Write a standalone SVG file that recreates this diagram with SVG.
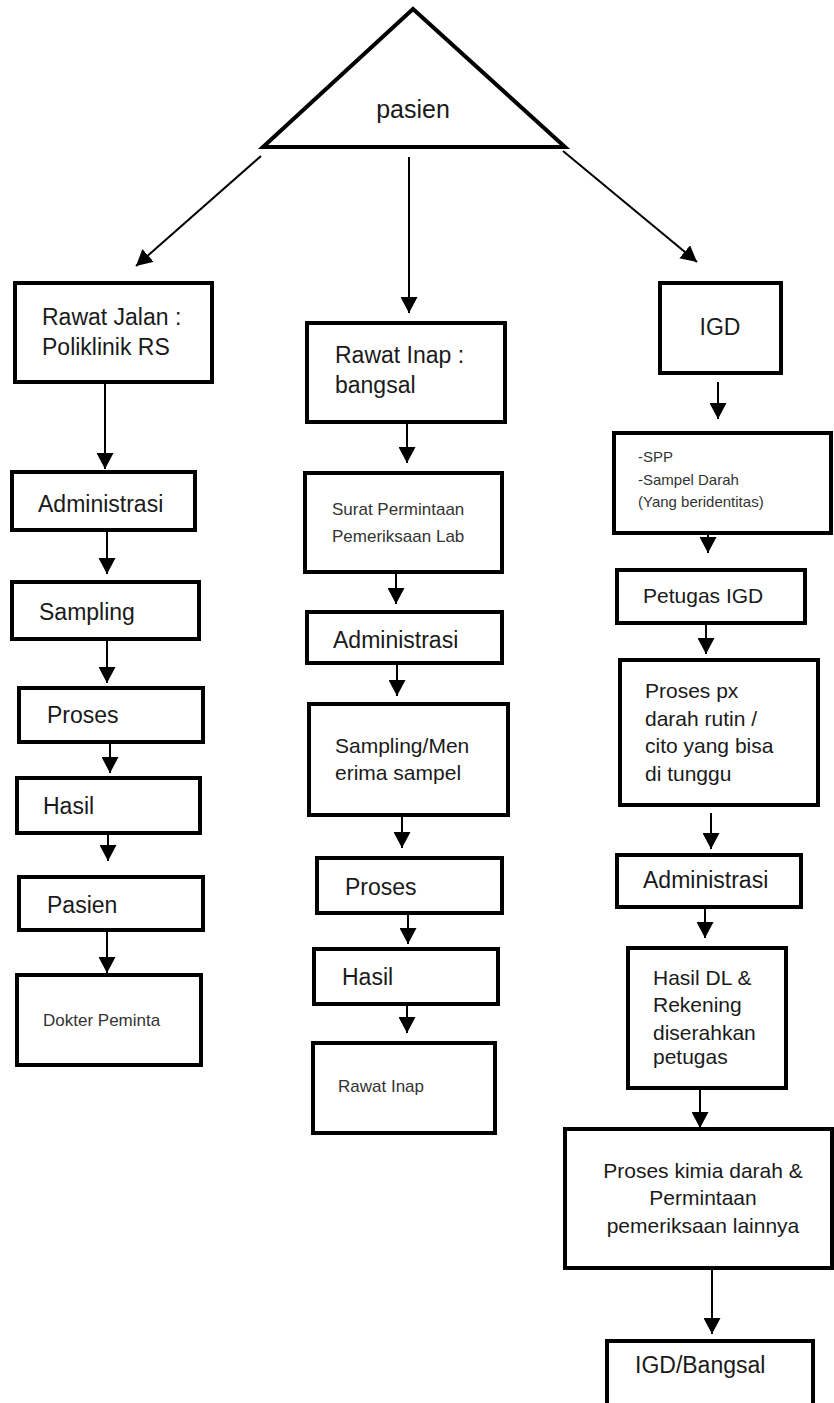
<svg xmlns="http://www.w3.org/2000/svg" width="834" height="1403" viewBox="0 0 834 1403">
<style>
.box{fill:#fff;stroke:#000;stroke-width:4}
.tri{fill:#fff;stroke:#000;stroke-width:4;stroke-linejoin:miter}
.c{fill:none;stroke:#000;stroke-width:2;marker-end:url(#ah)}
text{font-family:"Liberation Sans",Arial,sans-serif;fill:#1a1a1a}
.L{font-size:23px}
.M{font-size:21px}
.S{font-size:17px;fill:#333}
.T{font-size:15px;fill:#333}
</style>
<defs>
<marker id="ah" viewBox="0 0 16 17" refX="16" refY="8.5" markerWidth="16" markerHeight="17" markerUnits="userSpaceOnUse" orient="auto">
<path d="M0,0 L16,8.5 L0,17 z" fill="#000"/>
</marker>
</defs>
<rect width="834" height="1403" fill="#fff"/>

<g id="connectors">
<line class="c" x1="261" y1="156" x2="136" y2="266"/>
<line class="c" x1="409" y1="157" x2="409" y2="313"/>
<line class="c" x1="563" y1="151" x2="697" y2="262"/>

<line class="c" x1="105" y1="384" x2="105" y2="469"/>
<line class="c" x1="107" y1="532" x2="107" y2="574"/>
<line class="c" x1="107" y1="641" x2="107" y2="683"/>
<line class="c" x1="110" y1="744" x2="110" y2="773"/>
<line class="c" x1="108" y1="835" x2="108" y2="861"/>
<line class="c" x1="107" y1="932" x2="107" y2="973"/>

<line class="c" x1="407" y1="424" x2="407" y2="463"/>
<line class="c" x1="396" y1="574" x2="396" y2="604"/>
<line class="c" x1="397" y1="665" x2="397" y2="696"/>
<line class="c" x1="402" y1="817" x2="402" y2="848"/>
<line class="c" x1="408" y1="915" x2="408" y2="944"/>
<line class="c" x1="407" y1="1006" x2="407" y2="1033"/>

<line class="c" x1="718" y1="382" x2="718" y2="419"/>
<line class="c" x1="708" y1="535" x2="708" y2="553"/>
<line class="c" x1="706" y1="625" x2="706" y2="654"/>
<line class="c" x1="711" y1="813" x2="711" y2="849"/>
<line class="c" x1="705" y1="909" x2="705" y2="938"/>
<line class="c" x1="700" y1="1090" x2="700" y2="1128"/>
<line class="c" x1="712" y1="1270" x2="712" y2="1334"/>
</g>

<g id="pasien">
<polygon class="tri" points="413,9 263,147 565,147"/>
<text class="L" x="413" y="118" text-anchor="middle" style="font-size:25px">pasien</text>
</g>

<g id="rawat-jalan">
<rect class="box" x="15" y="283" width="197" height="99"/>
<text class="L" x="42" y="325">Rawat Jalan :</text>
<text class="L" x="42" y="355">Poliklinik RS</text>
</g>
<g id="administrasi-1">
<rect class="box" x="12" y="472" width="183" height="58"/>
<text class="L" x="38" y="512">Administrasi</text>
</g>
<g id="sampling-1">
<rect class="box" x="12" y="582" width="187" height="57"/>
<text class="L" x="39" y="620">Sampling</text>
</g>
<g id="proses-1">
<rect class="box" x="19" y="688" width="184" height="54"/>
<text class="L" x="47" y="723">Proses</text>
</g>
<g id="hasil-1">
<rect class="box" x="17" y="778" width="183" height="55"/>
<text class="L" x="43" y="814">Hasil</text>
</g>
<g id="pasien-1">
<rect class="box" x="19" y="877" width="184" height="53"/>
<text class="L" x="47" y="913">Pasien</text>
</g>
<g id="dokter-peminta">
<rect class="box" x="17" y="975" width="184" height="90"/>
<text class="S" x="43" y="1026">Dokter Peminta</text>
</g>

<g id="rawat-inap">
<rect class="box" x="307" y="323" width="198" height="99"/>
<text class="L" x="335" y="363">Rawat Inap :</text>
<text class="L" x="335" y="393">bangsal</text>
</g>
<g id="surat-permintaan">
<rect class="box" x="305" y="473" width="197" height="99"/>
<text class="S" x="332" y="515">Surat Permintaan</text>
<text class="S" x="332" y="542">Pemeriksaan Lab</text>
</g>
<g id="administrasi-2">
<rect class="box" x="307" y="612" width="195" height="51"/>
<text class="L" x="333" y="648">Administrasi</text>
</g>
<g id="sampling-2">
<rect class="box" x="309" y="704" width="199" height="111"/>
<text class="M" x="335" y="753">Sampling/Men</text>
<text class="M" x="335" y="780">erima sampel</text>
</g>
<g id="proses-2">
<rect class="box" x="317" y="858" width="185" height="55"/>
<text class="L" x="345" y="895">Proses</text>
</g>
<g id="hasil-2">
<rect class="box" x="314" y="949" width="184" height="55"/>
<text class="L" x="342" y="985">Hasil</text>
</g>
<g id="rawat-inap-2">
<rect class="box" x="313" y="1043" width="182" height="90"/>
<text class="S" x="338" y="1092">Rawat Inap</text>
</g>

<g id="igd">
<rect class="box" x="660" y="283" width="121" height="90"/>
<text class="L" x="720" y="335" text-anchor="middle">IGD</text>
</g>
<g id="spp">
<rect class="box" x="614" y="433" width="217" height="100"/>
<text class="T" x="638" y="462">-SPP</text>
<text class="T" x="638" y="485">-Sampel Darah</text>
<text class="T" x="638" y="507">(Yang beridentitas)</text>
</g>
<g id="petugas-igd">
<rect class="box" x="617" y="570" width="188" height="53"/>
<text class="M" x="643" y="603">Petugas IGD</text>
</g>
<g id="proses-px">
<rect class="box" x="620" y="660" width="198" height="145"/>
<text class="M" x="645" y="698">Proses px</text>
<text class="M" x="645" y="726">darah rutin /</text>
<text class="M" x="645" y="753">cito yang bisa</text>
<text class="M" x="645" y="781">di tunggu</text>
</g>
<g id="administrasi-3">
<rect class="box" x="617" y="855" width="184" height="52"/>
<text class="L" x="643" y="888">Administrasi</text>
</g>
<g id="hasil-dl">
<rect class="box" x="628" y="948" width="158" height="140"/>
<text class="M" x="653" y="985">Hasil DL &amp;</text>
<text class="M" x="653" y="1012">Rekening</text>
<text class="M" x="653" y="1040">diserahkan</text>
<text class="M" x="653" y="1064">petugas</text>
</g>
<g id="proses-kimia">
<rect class="box" x="565" y="1129" width="267" height="139"/>
<text class="M" x="703" y="1178" text-anchor="middle">Proses kimia darah &amp;</text>
<text class="M" x="703" y="1205" text-anchor="middle">Permintaan</text>
<text class="M" x="703" y="1233" text-anchor="middle">pemeriksaan lainnya</text>
</g>
<g id="igd-bangsal">
<rect class="box" x="607" y="1341" width="206" height="80"/>
<text class="L" x="635" y="1373">IGD/Bangsal</text>
</g>
</svg>
